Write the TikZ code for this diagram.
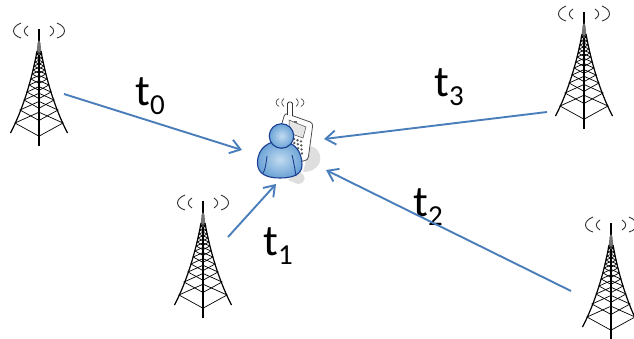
\documentclass[tikz,border=0pt]{standalone}
\usepackage{fontspec}
\setmainfont{Carlito}
\usetikzlibrary{arrows.meta}
\definecolor{linkblue}{HTML}{4A7EBB}
\definecolor{personedge}{HTML}{1C3F94}
\definecolor{personfill}{HTML}{6BA3D6}
\definecolor{personlight}{HTML}{C2DBF0}
\newcommand{\tlabel}[1]{t\raisebox{-9pt}{\fontsize{29}{30}\selectfont #1}}
\tikzset{
  x=1pt,y=-1pt,
  link/.style={draw=linkblue,line width=1.9pt,-{Straight Barb[length=10pt,width=14pt,line width=1.9pt]}},
  lbl/.style={font=\fontsize{44}{46}\selectfont,inner sep=0pt,text=black},
  towerline/.style={draw=black,line width=.9pt},
  wave/.style={draw=black!80,line width=.9pt},
  persona/.style={draw=personedge,line width=1.1pt,inner color=personlight,outer color=personfill},
  pics/tower/.style={code={
    \draw[towerline,line width=1.2pt] (0,0) -- (0,117);
    \fill[black!55] (-2.5,26) -- (-1.5,14) -- (0,11) -- (1.5,14) -- (2.5,26) -- cycle;
    \foreach \s in {-1,1}{
      \draw[wave] (\s*11,-3) .. controls (\s*16,0) and (\s*16,4) .. (\s*11,7);
      \draw[wave] (\s*18,-6) .. controls (\s*28,-2) and (\s*28,6) .. (\s*18,9);
      \draw[towerline,line width=1.2pt] (\s*2,22) .. controls (\s*7,50) and (\s*16,80) .. (\s*28.5,104);
    }
    \foreach \ya/\xa in {25/2.6,29/3.2,33/4,37/5,41/5.9,45/6.8,50/8,56/9.8,63/12,71/15,81/19,94/24}{
      \draw[towerline,line width=.7pt] (-\xa,\ya) -- (0,\ya+.55*\xa) -- (\xa,\ya) -- (0,\ya-.45*\xa) -- cycle;
    }
  }}
}
\begin{document}
\begin{tikzpicture}
\useasboundingbox (0,0) rectangle (634,338);
\clip (0,0) rectangle (634,338);
\fill[white] (0,0) rectangle (634,338);
% towers
\pic at (39,29) {tower};
\pic at (203,201) {tower};
\pic at (584,12) {tower};
\pic at (611,223) {tower};
% phone shadow
\fill[black!13] (310,146) .. controls (320,148) and (322,158) .. (319,164) .. controls (315,170) and (310,172) .. (303,172) -- cycle;
\fill[black!13] (300,172) .. controls (307,176) and (306,183) .. (298,184) -- (288,180) -- cycle;
% phone
\draw[black!70,line width=.8pt,fill=white,rounded corners=3pt] (285,113) -- (313,123) -- (308,160) -- (298,162) -- (280,130) -- cycle;
\draw[black!70,fill=black!10,line width=.5pt] (289,120) -- (306,127) -- (303,138) -- (289,133) -- cycle;
\fill[black!60] (294,120.5) rectangle (297,122.5);
\foreach \i in {0,1,2}\foreach \j in {0,1,2,3}{
  \fill[black!65] (294+\i*3.5+\j*.3,139+\j*4+\i*1.2) circle[radius=1.3];
}
% phone antenna
\draw[black!80,line width=.8pt,fill=white,rounded corners=1.5pt] (287.5,115) -- (287.5,102) -- (292.5,102) -- (292.5,116);
\foreach \s in {-1,1}{
  \draw[wave,line width=.6pt] (290+\s*6,98.5) .. controls (290+\s*9,101) and (290+\s*9,104) .. (290+\s*6,106.5);
  \draw[wave,line width=.6pt] (290+\s*11,98.5) .. controls (290+\s*15,101) and (290+\s*15,104) .. (290+\s*11,106.5);
}
% person
\path[persona] (257.5,163) .. controls (257.5,147) and (270,141) .. (280,141) .. controls (293,141) and (302,150) .. (302,165) .. controls (302,175) and (292,178) .. (280,178) .. controls (267,178) and (257.5,174) .. (257.5,163) -- cycle;
\draw[personedge,line width=.9pt] (267,156) .. controls (266,165) and (265,170) .. (263,173);
\draw[personedge,line width=.9pt] (292,155) .. controls (294,163) and (295,170) .. (296,176);
\node[persona,circle,minimum size=24.5pt,inner sep=0pt] (user) at (281.5,136) {};
% labels
\node[lbl] (t0) at (150,96) {\tlabel{0}};
\node[lbl] (t1) at (278,246) {\tlabel{1}};
\node[lbl] (t2) at (428,207) {\tlabel{2}};
\node[lbl] (t3) at (449,87) {\tlabel{3}};
% connectors
\coordinate (s0) at (64,94);  \coordinate (e0) at (242,150);
\coordinate (s1) at (228,237);\coordinate (e1) at (276,184);
\coordinate (s2) at (571,291);\coordinate (e2) at (326,170);
\coordinate (s3) at (547,112);\coordinate (e3) at (324,139);
\draw[link] (s0) -- (e0);
\draw[link] (s1) -- (e1);
\draw[link] (s2) -- (e2);
\draw[link] (s3) -- (e3);
\end{tikzpicture}
\end{document}
